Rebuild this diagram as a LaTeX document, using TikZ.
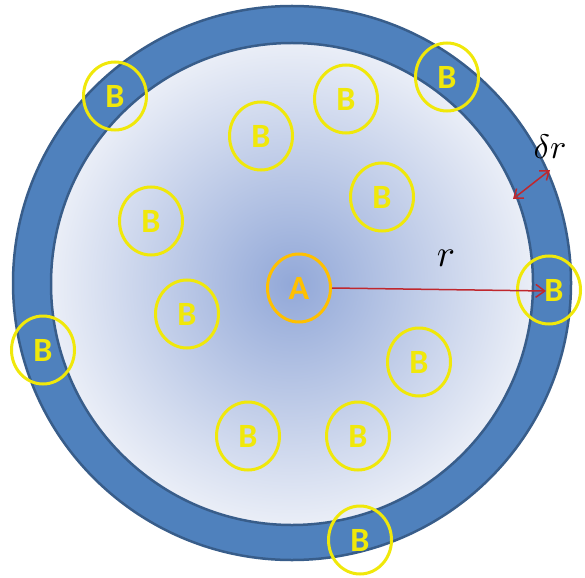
\documentclass[tikz,border=0pt]{standalone}
\usepackage{fontspec}
\setmainfont{Carlito}
\usetikzlibrary{shapes.geometric,arrows.meta}
\definecolor{ringfill}{RGB}{79,129,189}
\definecolor{ringedge}{RGB}{56,93,138}
\definecolor{gradin}{RGB}{146,168,216}
\definecolor{gradout}{RGB}{234,238,247}
\definecolor{byellow}{RGB}{240,232,10}
\definecolor{aorange}{RGB}{255,192,0}
\definecolor{arrred}{RGB}{192,39,45}
\tikzset{
  bnode/.style={ellipse,draw=byellow,line width=3pt,minimum width=63pt,minimum height=68pt,inner sep=0pt,
    text=byellow,font=\fontsize{34}{34}\selectfont\bfseries},
  anode/.style={bnode,draw=aorange,text=aorange},
  redarrow/.style={draw=arrred,line width=1.5pt,-{Straight Barb[length=9pt,width=13pt]}},
  reddouble/.style={draw=arrred,line width=1.5pt,{Straight Barb[length=8pt,width=12pt]}-{Straight Barb[length=8pt,width=12pt]}},
  mathlbl/.style={inner sep=0pt}
}
\begin{document}
\begin{tikzpicture}[x=1pt,y=-1pt]
\useasboundingbox (0,0) rectangle (585,577);
% shell
\filldraw[fill=ringfill,draw=ringedge,line width=2.5pt] (292,283) ellipse [x radius=279, y radius=277];
\shade[inner color=gradin,outer color=gradout] (292,284) circle [radius=241];
\draw[ringedge,line width=2.5pt] (292,284) circle [radius=241];
% A
\node[anode] (a) at (299,288) {A};
% B nodes
\node[bnode] (b1) at (115,96) {B};
\node[bnode] (b2) at (346,99) {B};
\node[bnode] (b3) at (447,77) {B};
\node[bnode] (b4) at (261,136) {B};
\node[bnode] (b5) at (382,197) {B};
\node[bnode] (b6) at (151,221) {B};
\node[bnode] (b7) at (187,314) {B};
\node[bnode] (b8) at (549,290) {\hspace*{10pt}B};
\node[bnode] (b9) at (43,350) {B};
\node[bnode] (b10) at (419,362) {B};
\node[bnode] (b11) at (248,436) {B};
\node[bnode] (b12) at (358,436) {B};
\node[bnode] (b13) at (360,540) {B};
% radius arrow
\coordinate (rtip) at (546,291);
\draw[redarrow] (a.east) -- (rtip);
\node[mathlbl,scale=3.8] (rl) at (446,258) {$r$};
% delta r arrow
\coordinate (d1) at (513,199);
\coordinate (d2) at (550,170);
\draw[reddouble] (d1) -- (d2);
\node[mathlbl,scale=3.4] (dl) at (550,147) {$\delta r$};
\end{tikzpicture}
\end{document}
